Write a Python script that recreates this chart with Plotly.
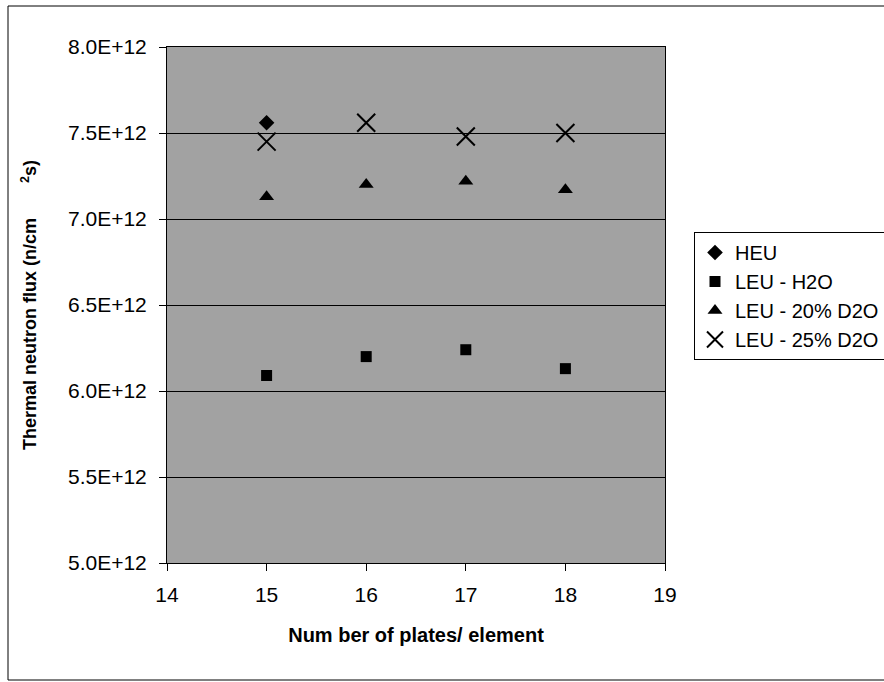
import plotly.graph_objects as go

plates = [15, 16, 17, 18]
heu_x = [15]
heu = [7.56e12]
leu_h2o = [6.09e12, 6.20e12, 6.24e12, 6.13e12]
leu_20 = [7.13e12, 7.20e12, 7.22e12, 7.17e12]
leu_25 = [7.45e12, 7.56e12, 7.48e12, 7.50e12]

y_tickvals = [5.0e12, 5.5e12, 6.0e12, 6.5e12, 7.0e12, 7.5e12, 8.0e12]
y_ticktext = ["5.0E+12", "5.5E+12", "6.0E+12", "6.5E+12", "7.0E+12", "7.5E+12", "8.0E+12"]
x_tickvals = [14, 15, 16, 17, 18, 19]

FONT = "Liberation Sans, Arial, sans-serif"

fig = go.Figure()
fig.add_trace(go.Scatter(x=heu_x, y=heu, mode="markers", name="HEU",
                         marker=dict(symbol="diamond", size=12, color="black")))
fig.add_trace(go.Scatter(x=plates, y=leu_h2o, mode="markers", name="LEU - H2O",
                         marker=dict(symbol="square", size=11, color="black")))
fig.add_trace(go.Scatter(x=plates, y=leu_20, mode="markers", name="LEU - 20% D2O",
                         marker=dict(symbol="triangle-up", size=13, color="black")))
fig.add_trace(go.Scatter(x=plates, y=leu_25, mode="markers", name="LEU - 25% D2O",
                         marker=dict(symbol="x-thin-open", size=18, color="black",
                                     line=dict(width=2, color="black"))))

W, H = 884, 682
L, R, T, B = 167, 665, 47, 563
pw, ph = R - L, B - T

def px(xp):
    return (xp - L) / pw

def py(yp):
    return (B - yp) / ph

fig.update_layout(
    width=W, height=H,
    margin=dict(l=L, r=W - R, t=T, b=H - B, autoexpand=False),
    paper_bgcolor="white",
    plot_bgcolor="#a2a2a2",
    font=dict(family=FONT, color="black", size=20),
    showlegend=True,
    legend=dict(x=px(694), y=py(232), xanchor="left", yanchor="top",
                bgcolor="white", bordercolor="black", borderwidth=1,
                font=dict(size=20, family=FONT), tracegroupgap=0,
                itemwidth=30),
    xaxis=dict(range=[14, 19], tickvals=x_tickvals, showgrid=False,
               ticks="outside", ticklen=7, tickcolor="black", tickwidth=1,
               showline=True, linecolor="black", linewidth=1, mirror=True,
               zeroline=False, ticklabelstandoff=6, automargin=False,
               tickfont=dict(size=21, family=FONT),
               title=dict(text="Num ber of plates/ element",
                          font=dict(size=20, family=FONT, weight="bold"),
                          standoff=22)),
    yaxis=dict(range=[5.0e12, 8.0e12], tickvals=y_tickvals, ticktext=y_ticktext,
               showgrid=True, gridcolor="black", gridwidth=1,
               ticks="outside", ticklen=7, tickcolor="black", tickwidth=1,
               showline=True, linecolor="black", linewidth=1, mirror=True,
               zeroline=False, ticklabelstandoff=8, automargin=False,
               tickfont=dict(size=21, family=FONT),
               title=dict(text="Thermal neutron flux (n/cm       <sup>2</sup>s)",
                          font=dict(size=18, family=FONT, weight="bold"),
                          standoff=26)),
    shapes=[dict(type="rect", xref="paper", yref="paper",
                 x0=px(8), x1=px(910), y0=py(680), y1=py(6),
                 line=dict(color="black", width=1), fillcolor="rgba(0,0,0,0)",
                 layer="below")],
)

fig.write_html("out.html")
